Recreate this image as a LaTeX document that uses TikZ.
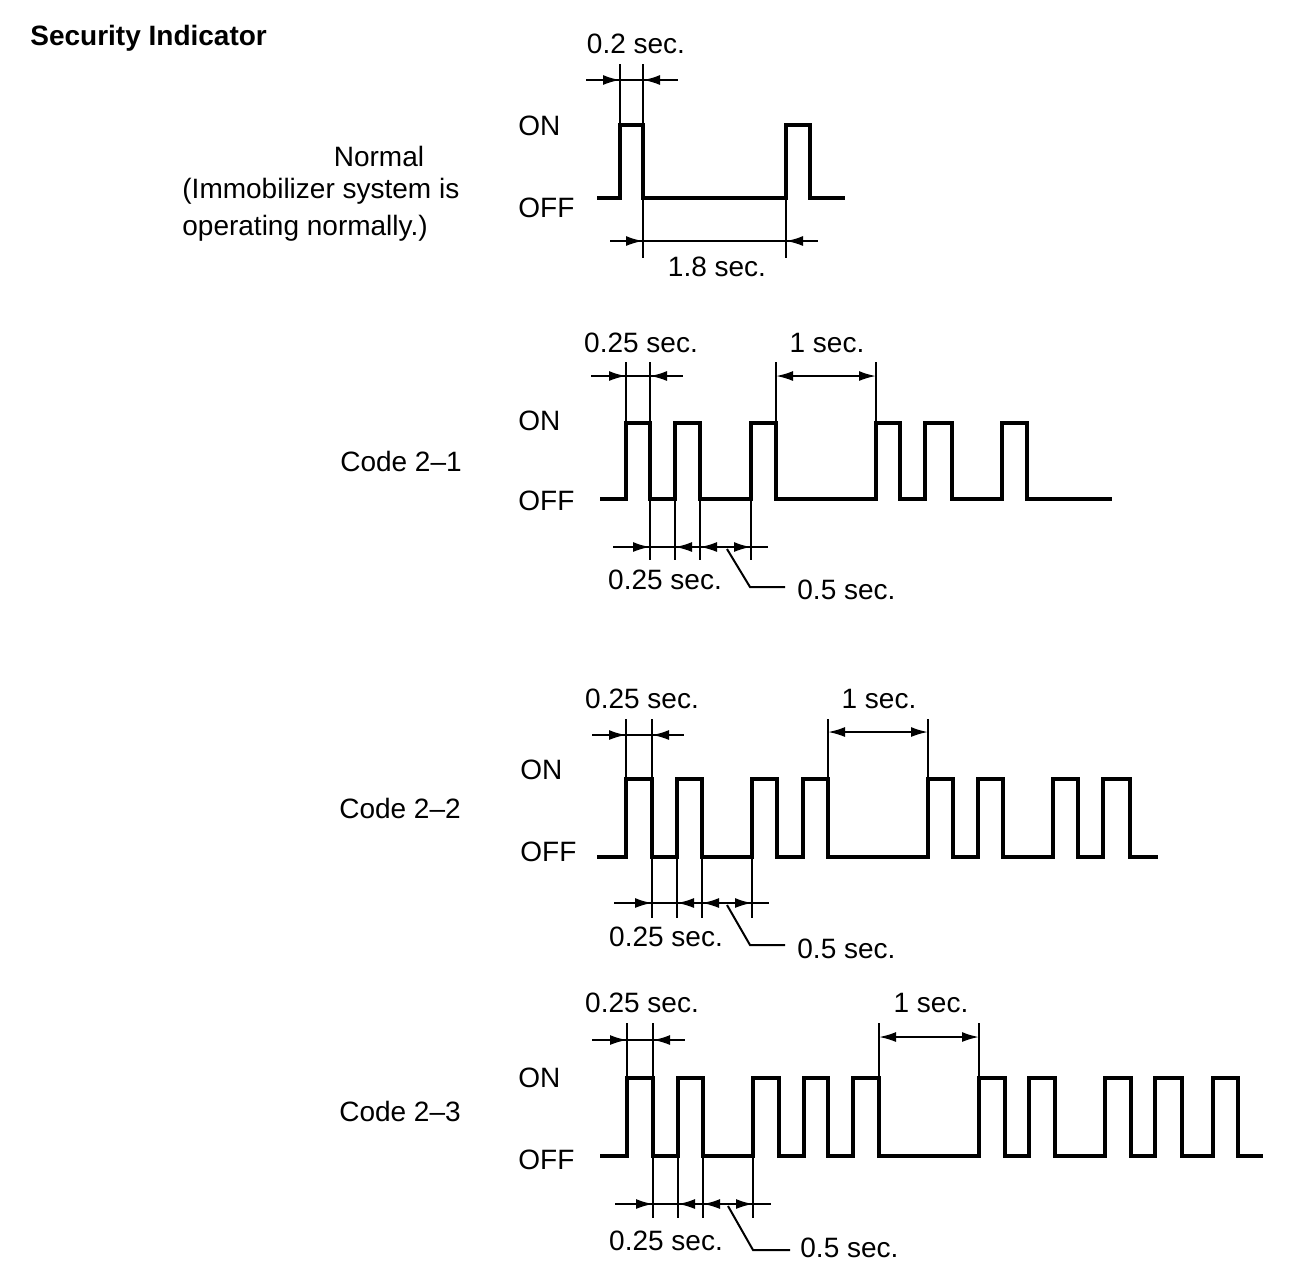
\documentclass[tikz,border=0pt]{standalone}
\usepackage{fontspec}
\setmainfont{Liberation Sans}
\usetikzlibrary{arrows.meta}
\begin{document}
\begin{tikzpicture}[x=0.5pt,y=-0.5pt,
  wave/.style={line width=2pt,line join=miter},
  thinline/.style={line width=1pt},
  tip/.style={thinline,-{Latex[length=8.5pt,width=5pt]}},
  both/.style={thinline,{Latex[length=8.5pt,width=5pt]}-{Latex[length=8.5pt,width=5pt]}},
  lbl/.style={inner sep=0pt,font=\fontsize{14pt}{17pt}\selectfont}]
\useasboundingbox (0,0) rectangle (1312,1282);

% Title
\node[lbl,anchor=west,font=\fontsize{14pt}{17pt}\selectfont\bfseries] (title) at (30,38) {Security Indicator};

% ================= Normal =================
\node[lbl] (nlab) at (379,156) {Normal};
\node[lbl,anchor=west] (nlab2) at (182,191) {(Immobilizer system is};
\node[lbl,anchor=west] (nlab3) at (182,228) {operating normally.)};
\node[lbl,anchor=west] (non) at (518,126) {ON};
\node[lbl,anchor=west] (noff) at (518,208) {OFF};
\node[lbl] (n02) at (636,44) {0.2 sec.};
\node[lbl] (n18) at (717,267) {1.8 sec.};

\draw[wave] (597,198) -- (620,198) -- (620,125) -- (643,125) -- (643,198) -- (786,198) -- (786,125) -- (810,125) -- (810,198) -- (845,198);
% extension lines
\draw[thinline] (620,64) -- (620,125);
\draw[thinline] (643,64) -- (643,258);
\draw[thinline] (786,198) -- (786,258);
% dimensions
\draw[thinline] (586,80) -- (678,80);
\draw[tip] (590,80) -- (620,80);
\draw[tip] (674,80) -- (643,80);
\draw[thinline] (610,241) -- (818,241);
\draw[tip] (613,241) -- (643,241);
\draw[tip] (815,241) -- (786,241);

% ================= Code 2-1 =================
\node[lbl] (c1) at (401,461) {Code 2–1};
\node[lbl,anchor=west] (c1on) at (518,421) {ON};
\node[lbl,anchor=west] (c1off) at (518,501) {OFF};
\node[lbl] (c1t) at (641,343) {0.25 sec.};
\node[lbl] (c1s) at (827,343) {1 sec.};
\node[lbl] (c1b) at (665,580) {0.25 sec.};
\node[lbl,anchor=west] (c1h) at (797,590) {0.5 sec.};

\draw[wave] (600,499) -- (626,499) -- (626,423) -- (650,423) -- (650,499) -- (675,499) -- (675,423) -- (700,423) -- (700,499)
  -- (751,499) -- (751,423) -- (776,423) -- (776,499) -- (876,499) -- (876,423) -- (900,423) -- (900,499)
  -- (925,499) -- (925,423) -- (952,423) -- (952,499) -- (1002,499) -- (1002,423) -- (1027,423) -- (1027,499) -- (1112,499);
\draw[thinline] (626,362) -- (626,423);
\draw[thinline] (650,362) -- (650,560);
\foreach \xx in {675,700,751} \draw[thinline] (\xx,499) -- (\xx,560);
\draw[thinline] (776,362) -- (776,423);
\draw[thinline] (876,362) -- (876,423);
\draw[thinline] (591,376) -- (683,376);
\draw[tip] (594,376) -- (626,376);
\draw[tip] (681,376) -- (650,376);
\draw[both] (776,376) -- (876,376);
\draw[thinline] (613,547) -- (768,547);
\draw[tip] (616,547) -- (650,547);
\draw[tip] (700,547) -- (675,547);
\draw[tip] (726,547) -- (700,547);
\draw[tip] (726,547) -- (751,547);
\coordinate (c1l) at (785,587);
\draw[thinline] (727,549) -- (750,587) -- (c1l);

% ================= Code 2-2 =================
\node[lbl] (c2) at (400,808) {Code 2–2};
\node[lbl,anchor=west] (c2on) at (520,770) {ON};
\node[lbl,anchor=west] (c2off) at (520,852) {OFF};
\node[lbl] (c2t) at (642,699) {0.25 sec.};
\node[lbl] (c2s) at (879,699) {1 sec.};
\node[lbl] (c2b) at (666,937) {0.25 sec.};
\node[lbl,anchor=west] (c2h) at (797,949) {0.5 sec.};

\draw[wave] (597,857) -- (626,857) -- (626,779) -- (652,779) -- (652,857) -- (677,857) -- (677,779) -- (702,779) -- (702,857)
  -- (752,857) -- (752,779) -- (777,779) -- (777,857) -- (803,857) -- (803,779) -- (828,779) -- (828,857)
  -- (928,857) -- (928,779) -- (953,779) -- (953,857) -- (978,857) -- (978,779) -- (1003,779) -- (1003,857)
  -- (1053,857) -- (1053,779) -- (1078,779) -- (1078,857) -- (1103,857) -- (1103,779) -- (1130,779) -- (1130,857) -- (1158,857);
\draw[thinline] (626,719) -- (626,779);
\draw[thinline] (652,719) -- (652,918);
\foreach \xx in {677,702,752} \draw[thinline] (\xx,857) -- (\xx,918);
\draw[thinline] (828,719) -- (828,779);
\draw[thinline] (928,719) -- (928,779);
\draw[thinline] (592,735) -- (684,735);
\draw[tip] (595,735) -- (626,735);
\draw[tip] (682,735) -- (652,735);
\draw[both] (828,732) -- (928,732);
\draw[thinline] (614,903) -- (769,903);
\draw[tip] (617,903) -- (652,903);
\draw[tip] (702,903) -- (677,903);
\draw[tip] (727,903) -- (702,903);
\draw[tip] (727,903) -- (752,903);
\coordinate (c2l) at (785,945);
\draw[thinline] (727,905) -- (750,945) -- (c2l);

% ================= Code 2-3 =================
\node[lbl] (c3) at (400,1111) {Code 2–3};
\node[lbl,anchor=west] (c3on) at (518,1078) {ON};
\node[lbl,anchor=west] (c3off) at (518,1160) {OFF};
\node[lbl] (c3t) at (642,1003) {0.25 sec.};
\node[lbl] (c3s) at (931,1003) {1 sec.};
\node[lbl] (c3b) at (666,1241) {0.25 sec.};
\node[lbl,anchor=west] (c3h) at (800,1248) {0.5 sec.};

\draw[wave] (600,1156) -- (627,1156) -- (627,1078) -- (653,1078) -- (653,1156) -- (678,1156) -- (678,1078) -- (703,1078) -- (703,1156)
  -- (753,1156) -- (753,1078) -- (779,1078) -- (779,1156) -- (804,1156) -- (804,1078) -- (828,1078) -- (828,1156)
  -- (853,1156) -- (853,1078) -- (879,1078) -- (879,1156) -- (979,1156) -- (979,1078) -- (1005,1078) -- (1005,1156)
  -- (1029,1156) -- (1029,1078) -- (1055,1078) -- (1055,1156) -- (1105,1156) -- (1105,1078) -- (1131,1078) -- (1131,1156)
  -- (1155,1156) -- (1155,1078) -- (1182,1078) -- (1182,1156) -- (1213,1156) -- (1213,1078) -- (1238,1078) -- (1238,1156) -- (1263,1156);
\draw[thinline] (627,1023) -- (627,1078);
\draw[thinline] (653,1023) -- (653,1218);
\foreach \xx in {678,703,753} \draw[thinline] (\xx,1156) -- (\xx,1218);
\draw[thinline] (879,1023) -- (879,1078);
\draw[thinline] (979,1023) -- (979,1078);
\draw[thinline] (592,1040) -- (685,1040);
\draw[tip] (595,1040) -- (627,1040);
\draw[tip] (683,1040) -- (653,1040);
\draw[both] (879,1037) -- (979,1037);
\draw[thinline] (615,1204) -- (771,1204);
\draw[tip] (618,1204) -- (653,1204);
\draw[tip] (703,1204) -- (678,1204);
\draw[tip] (728,1204) -- (703,1204);
\draw[tip] (728,1204) -- (753,1204);
\coordinate (c3l) at (790,1250);
\draw[thinline] (728,1206) -- (753,1250) -- (c3l);
\end{tikzpicture}
\end{document}
